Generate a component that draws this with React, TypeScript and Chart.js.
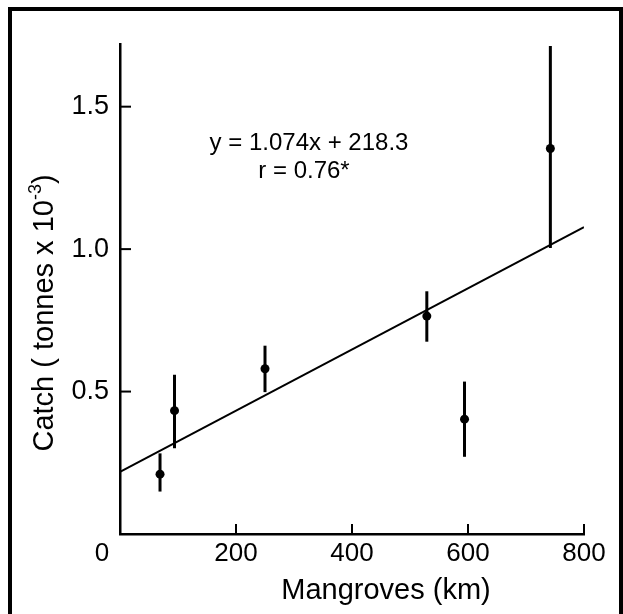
import React, { useEffect, useRef } from 'react';
import { Chart, registerables } from 'chart.js';

Chart.register(...registerables);

// Data
const mangroveKm = [69, 94, 250, 529, 594, 742];
const catchMean = [0.21, 0.433, 0.58, 0.765, 0.403, 1.353];
const catchLow = [0.149, 0.301, 0.498, 0.675, 0.271, 1.004];
const catchHigh = [0.283, 0.559, 0.661, 0.852, 0.535, 1.713];

// Regression line end points (y = 1.074x + 218.3, in tonnes x 10^-3 on the axis)
const fitX = [0, 800];
const fitY = [0.218, 1.077];

const xTickValues = [0, 200, 400, 600, 800];
const yTickValues = [0.5, 1.0, 1.5];

const equationLines = ['y = 1.074x + 218.3', 'r = 0.76*'];
const xTitle = 'Mangroves (km)';
const yTitleMain = 'Catch ( tonnes x 10';
const yTitleSup = '-3';
const yTitleEnd = ')';

const FONT = '"Liberation Sans", Arial, Helvetica, sans-serif';

export default function App() {
  const ref = useRef<HTMLCanvasElement | null>(null);

  useEffect(() => {
    const canvas = ref.current;
    if (!canvas) return;

    const extras = {
      id: 'extras',
      beforeDatasetsDraw(chart: any) {
        const { ctx, chartArea } = chart;
        const x = chart.scales.x;
        const y = chart.scales.y;
        ctx.save();
        ctx.strokeStyle = '#000';
        ctx.lineCap = 'butt';
        // error bars
        ctx.lineWidth = 3;
        mangroveKm.forEach((k, i) => {
          const px = x.getPixelForValue(k);
          ctx.beginPath();
          ctx.moveTo(px, y.getPixelForValue(catchLow[i]));
          ctx.lineTo(px, y.getPixelForValue(catchHigh[i]));
          ctx.stroke();
        });
        // inward tick marks
        ctx.lineWidth = 2;
        yTickValues.forEach((v) => {
          const py = y.getPixelForValue(v);
          ctx.beginPath();
          ctx.moveTo(chartArea.left, py);
          ctx.lineTo(chartArea.left + 11, py);
          ctx.stroke();
        });
        xTickValues.forEach((v) => {
          if (v === 0) return;
          const px = x.getPixelForValue(v);
          ctx.beginPath();
          ctx.moveTo(px, chartArea.bottom);
          ctx.lineTo(px, chartArea.bottom - 10);
          ctx.stroke();
        });
        ctx.restore();
      },
      afterDraw(chart: any) {
        const { ctx } = chart;
        ctx.save();
        ctx.fillStyle = '#000';
        // equation text
        ctx.font = `24px ${FONT}`;
        ctx.textAlign = 'center';
        ctx.textBaseline = 'alphabetic';
        ctx.fillText(equationLines[0], 309, 150);
        ctx.fillText(equationLines[1], 304, 178);

        // x title
        ctx.font = `29px ${FONT}`;
        ctx.fillText(xTitle, 386, 599);

        // y title with superscript
        ctx.save();
        ctx.translate(53, 313);
        ctx.rotate(-Math.PI / 2);
        ctx.textAlign = 'left';
        ctx.font = `29px ${FONT}`;
        const wMain = ctx.measureText(yTitleMain).width;
        const wEnd = ctx.measureText(yTitleEnd).width;
        ctx.font = `18px ${FONT}`;
        const wSup = ctx.measureText(yTitleSup).width;
        const total = wMain + wSup + wEnd;
        let cx = -total / 2;
        ctx.font = `29px ${FONT}`;
        ctx.fillText(yTitleMain, cx, 0);
        cx += wMain;
        ctx.font = `18px ${FONT}`;
        ctx.fillText(yTitleSup, cx, -12);
        cx += wSup;
        ctx.font = `29px ${FONT}`;
        ctx.fillText(yTitleEnd, cx, 0);
        ctx.restore();

        // frame
        ctx.strokeStyle = '#000';
        ctx.lineWidth = 4;
        ctx.strokeRect(10, 9, 611, 700);
        ctx.restore();
      },
    };

    const chart = new Chart(canvas, {
      type: 'scatter',
      data: {
        datasets: [
          {
            label: 'Catch',
            data: mangroveKm.map((k, i) => ({ x: k, y: catchMean[i] })),
            pointRadius: 4.5,
            pointBackgroundColor: '#000',
            pointBorderWidth: 0,
            showLine: false,
            order: 0,
          },
          {
            label: 'Fit',
            data: fitX.map((v, i) => ({ x: v, y: fitY[i] })),
            showLine: true,
            borderColor: '#000',
            borderWidth: 2,
            pointRadius: 0,
            fill: false,
            order: 1,
          },
        ],
      },
      options: {
        responsive: false,
        animation: false,
        devicePixelRatio: 1,
        layout: { padding: { left: 0, top: 44, right: 39, bottom: 0 } },
        plugins: {
          legend: { display: false },
          tooltip: { enabled: false },
        },
        scales: {
          x: {
            type: 'linear',
            min: 0,
            max: 800,
            afterBuildTicks: (s: any) => {
              s.ticks = xTickValues.map((v) => ({ value: v }));
            },
            afterFit: (s: any) => {
              s.height = 80;
            },
            grid: { display: true, drawOnChartArea: false, drawTicks: false },
            border: { display: true, color: '#000', width: 2.5 },
            ticks: {
              color: '#000',
              font: { family: FONT, size: 26 },
              padding: 4,
              maxRotation: 0,
              autoSkip: false,
              callback: (v: any) => (Number(v) === 0 ? '0     ' : String(v)),
            },
          },
          y: {
            type: 'linear',
            min: 0,
            max: 1.72,
            afterBuildTicks: (s: any) => {
              s.ticks = yTickValues.map((v) => ({ value: v }));
            },
            afterFit: (s: any) => {
              s.width = 120;
            },
            grid: { display: true, drawOnChartArea: false, drawTicks: false },
            border: { display: true, color: '#000', width: 2.5 },
            ticks: {
              color: '#000',
              font: { family: FONT, size: 27 },
              padding: 11,
              callback: (v: any) => Number(v).toFixed(1),
            },
          },
        },
      },
      plugins: [extras],
    } as any);

    return () => chart.destroy();
  }, []);

  return (
    <div style={{ position: 'absolute', left: 0, top: 0, width: 623, height: 614, background: '#fff' }}>
      <canvas ref={ref} width={623} height={614} style={{ display: 'block', width: 623, height: 614 }} />
    </div>
  );
}
